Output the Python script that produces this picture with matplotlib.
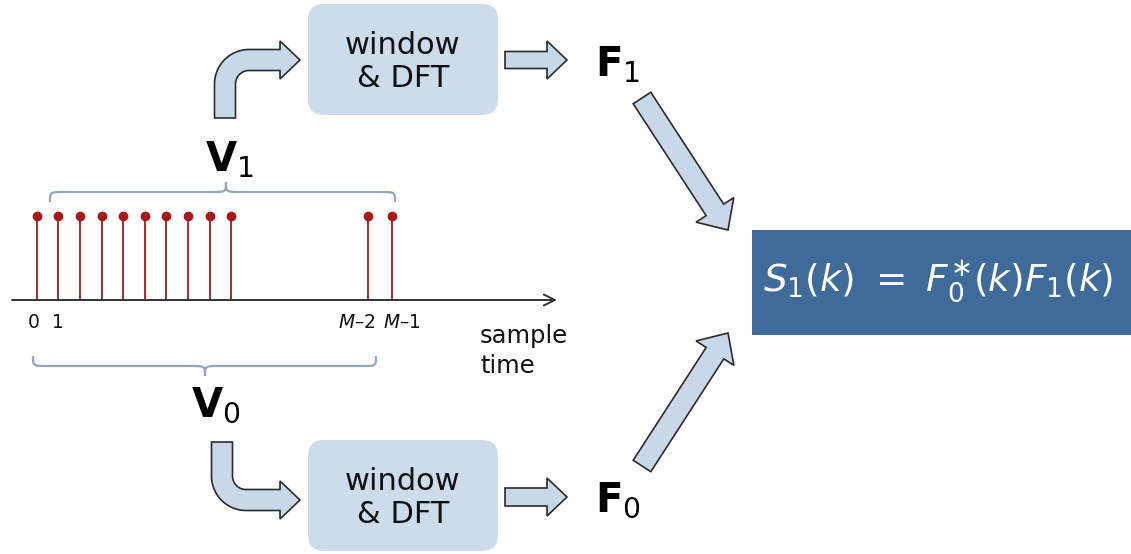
import matplotlib.pyplot as plt
import numpy as np
from matplotlib.patches import Polygon, FancyBboxPatch, PathPatch
from matplotlib.path import Path
from matplotlib.transforms import blended_transform_factory

plt.rcParams['mathtext.fontset'] = 'dejavusans'
plt.rcParams['font.family'] = 'DejaVu Sans'

# samples shown on the time axis (index units), all unit height
sample_pos = [0, 1, 2, 3, 4, 5, 6, 7, 8, 9, 15.35, 16.45]
sample_amp = [1, 1, 1, 1, 1, 1, 1, 1, 1, 1, 1, 1]
tick_pos = [0, 1, 15.35, 16.45]
tick_labels = ['0', '1', '$M$\u20132', '$M$\u20131']
tick_align = ['center', 'center', 'right', 'left']
tick_shift = [-0.12, 0.0, 0.33, -0.42]

block_text = 'window\n& DFT'
formula = r'$S_1(k)\ =\ F_0^{\ast}(k)F_1(k)$'

ARROW_FC = '#c8d8e8'
ARROW_EC = '#2b2b2b'
BOX_FC = '#cddcea'
STEM_C = '#a81818'
BRACE_C = '#93a6ba'

W, H = 1131, 554
fig = plt.figure(figsize=(W / 100, H / 100), dpi=100)
ax = fig.add_axes([0, 0, 1, 1])
ax.set_xlim(0, W)
ax.set_ylim(H, 0)
ax.axis('off')


def straight_arrow(tail, tip, w, hw, hl):
    t = np.array(tail, float)
    p = np.array(tip, float)
    u = (p - t) / np.linalg.norm(p - t)
    n = np.array([-u[1], u[0]])
    b = p - u * hl
    pts = [t + n * w / 2, b + n * w / 2, b + n * hw / 2, p,
           b - n * hw / 2, b - n * w / 2, t - n * w / 2]
    ax.add_patch(Polygon(pts, closed=True, fc=ARROW_FC, ec=ARROW_EC, lw=1.2))


def bent_arrow(xc, y0, yt, xt, w=21, hw=38, hl=20, r=24):
    s = 1 if yt > y0 else -1
    cx, cy = xc + r, yt - s * r
    a_end = np.pi - s * np.pi / 2
    th = np.linspace(np.pi, a_end, 30)
    R_out, R_in = r + w / 2, r - w / 2
    outer = [(xc - w / 2, y0)] + [(cx + R_out * np.cos(a), cy + R_out * np.sin(a)) for a in th]
    xh = xt - hl
    head = [(xh, yt + s * w / 2), (xh, yt + s * hw / 2), (xt, yt),
            (xh, yt - s * hw / 2), (xh, yt - s * w / 2)]
    inner = [(cx + R_in * np.cos(a), cy + R_in * np.sin(a)) for a in th[::-1]] + [(xc + w / 2, y0)]
    ax.add_patch(Polygon(outer + head + inner, closed=True, fc=ARROW_FC, ec=ARROW_EC, lw=1.2))


def brace(x0, x1, xm, y, d, r=14):
    verts = [(x0, y + d), (x0, y), (x0, y), (x0 + r, y),
             (xm - r, y), (xm, y), (xm, y), (xm, y - d),
             (xm, y), (xm, y), (xm + r, y),
             (x1 - r, y), (x1, y), (x1, y), (x1, y + d)]
    codes = [Path.MOVETO, Path.CURVE4, Path.CURVE4, Path.CURVE4,
             Path.LINETO, Path.CURVE4, Path.CURVE4, Path.CURVE4,
             Path.CURVE4, Path.CURVE4, Path.CURVE4,
             Path.LINETO, Path.CURVE4, Path.CURVE4, Path.CURVE4]
    ax.add_patch(PathPatch(Path(verts, codes), fc='none', ec=BRACE_C, lw=1.6))


# processing blocks
for (x, y, w, h) in [(308, 4, 190, 111), (308, 440, 190, 111)]:
    ax.add_patch(FancyBboxPatch((x, y), w, h, boxstyle='round,pad=0,rounding_size=16',
                                fc=BOX_FC, ec='none'))
ax.text(403, 62, block_text, ha='center', va='center', fontsize=22, linespacing=1.15, color='#111111')
ax.text(403, 498, block_text, ha='center', va='center', fontsize=22, linespacing=1.15, color='#111111')

# arrows
bent_arrow(225, 118, 60, 300)
bent_arrow(222, 442, 500, 300)
straight_arrow((505, 60), (567, 60), 17, 38, 20)
straight_arrow((505, 497), (567, 497), 18, 38, 20)
straight_arrow((642, 98), (728, 230), 21, 45, 24)
straight_arrow((642, 466), (728, 333), 21, 45, 24)

# result box
ax.add_patch(FancyBboxPatch((752, 230), 379, 105, boxstyle='square,pad=0', fc='#3e6b99', ec='none'))
ax.text(938, 281, formula, ha='center', va='center', fontsize=27, color='white')

# labels
ax.text(595, 65, r'$\mathbf{F}_1$', ha='left', va='center', fontsize=29)
ax.text(595, 500, r'$\mathbf{F}_0$', ha='left', va='center', fontsize=29)
ax.text(205, 160, r'$\mathbf{V}_1$', ha='left', va='center', fontsize=29)
ax.text(191, 405, r'$\mathbf{V}_0$', ha='left', va='center', fontsize=29)
ax.text(480, 351, 'sample\ntime', ha='left', va='center', fontsize=17.5, linespacing=1.3, color='#111111')

brace(50, 395, 226, 192, 10)
brace(33, 376, 205, 366, -10)

# sample stems on their own axes
x_left, x_right, y_axis, y_top = 12, 557, 300, 216
x0_pix, dx_pix = 36.7, 21.6
sax = fig.add_axes([x_left / W, (H - y_axis) / H, (x_right - x_left) / W, (y_axis - y_top) / H])
sax.set_xlim((x_left - x0_pix) / dx_pix, (x_right - x0_pix) / dx_pix)
sax.set_ylim(0, 1)
sax.axis('off')
markerline, stemlines, baseline = sax.stem(sample_pos, sample_amp, basefmt='none')
stemlines.set_color(STEM_C)
stemlines.set_linewidth(1.3)
markerline.set_color(STEM_C)
markerline.set_markersize(6)
markerline.set_clip_on(False)
sax.annotate('', xy=(1, 0), xytext=(0, 0), xycoords='axes fraction',
             arrowprops=dict(arrowstyle='->,head_length=0.8,head_width=0.4', lw=1.4, color='#333333',
                             shrinkA=0, shrinkB=0))
trans = blended_transform_factory(sax.transData, ax.transData)
for pos, lab, al, sh in zip(tick_pos, tick_labels, tick_align, tick_shift):
    ax.text(pos + sh, 323, lab, transform=trans, ha=al, va='center', fontsize=13.5, color='#111111')

fig.savefig('out.png', dpi=100)
